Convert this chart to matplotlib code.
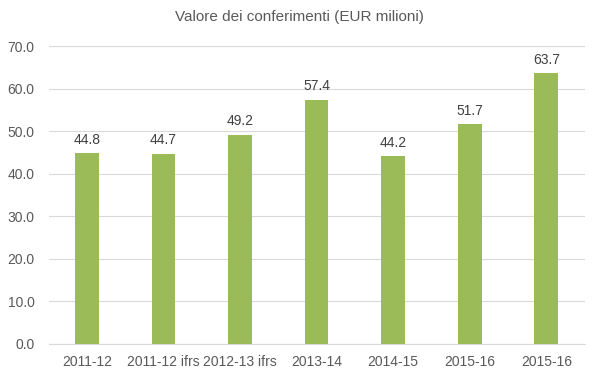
import matplotlib
matplotlib.use('Agg')
import matplotlib.pyplot as plt
import numpy as np

categories = ['2011-12', '2011-12 ifrs', '2012-13 ifrs', '2013-14', '2014-15', '2015-16', '2015-16']
values = [44.8, 44.7, 49.2, 57.4, 44.2, 51.7, 63.7]
yticks = [0, 10, 20, 30, 40, 50, 60, 70]

plt.rcParams['font.family'] = ['Liberation Sans Narrow', 'Liberation Sans', 'DejaVu Sans']
text_col = '#595959'
bar_col = '#9BBB59'

fig = plt.figure(figsize=(5.99, 3.78), dpi=100)
ax = fig.add_axes([0.081, 0.09, 0.895, 0.788])

x = np.arange(len(categories))
bars = ax.bar(x, values, width=0.31, color=bar_col, zorder=3)
for xi, v in zip(x, values):
    ax.text(xi, v + 1.5, f'{v:.1f}', ha='center', va='bottom', fontsize=10, color='#404040')

ax.set_xlim(-0.5, len(categories) - 0.5)
ax.set_ylim(0, 70)
ax.set_yticks(yticks)
ax.set_yticklabels([f'{t:.1f}' for t in yticks])
ax.set_xticks(x)
ax.set_xticklabels(categories)
ax.tick_params(axis='both', length=0, labelsize=10, colors=text_col)
ax.tick_params(axis='x', pad=8)
ax.tick_params(axis='y', pad=10)
ax.yaxis.grid(True, color='#D9D9D9', linewidth=0.8, zorder=0)
for s in ['top', 'right', 'left']:
    ax.spines[s].set_visible(False)
ax.spines['bottom'].set_color('#D9D9D9')

fig.text(0.5, 0.955, 'Valore dei conferimenti (EUR milioni)', ha='center', va='center',
         fontsize=11, color=text_col)

fig.savefig('out.png', dpi=100)
